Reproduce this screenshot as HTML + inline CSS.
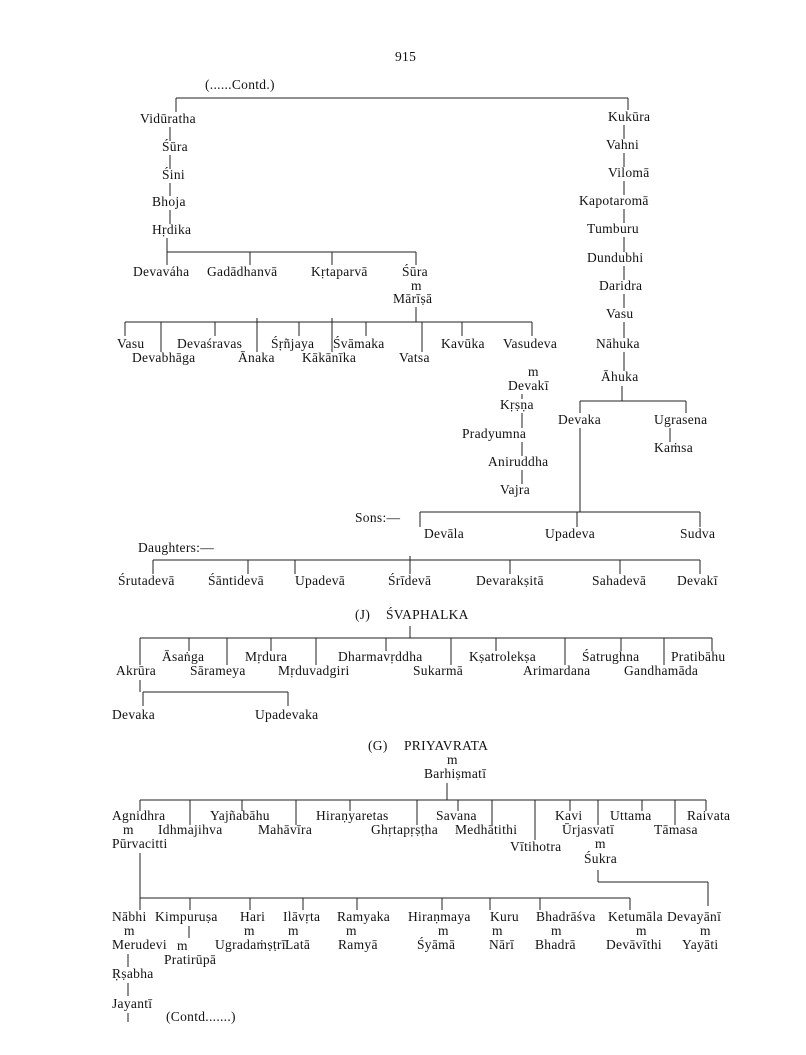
<!DOCTYPE html>
<html><head><meta charset="utf-8"><style>
html,body{margin:0;padding:0;background:#fff;}
svg{display:block;}
text{font-family:"Liberation Serif",serif;font-size:13.5px;letter-spacing:0.3px;fill:#111;dominant-baseline:middle;}
line{stroke:#222;stroke-width:1;}
</style></head><body>
<svg width="806" height="1055" viewBox="0 0 806 1055">
<text x="395" y="58">915</text>
<text x="205" y="86">(......Contd.)</text>
<line x1="176" y1="98" x2="628" y2="98"/>
<line x1="176" y1="98" x2="176" y2="112"/>
<line x1="628" y1="98" x2="628" y2="110"/>
<text x="140" y="120">Vidūratha</text>
<line x1="170" y1="127" x2="170" y2="141"/>
<text x="162" y="148">Śūra</text>
<line x1="170" y1="155" x2="170" y2="169"/>
<text x="162" y="176">Śini</text>
<line x1="170" y1="183" x2="170" y2="196"/>
<text x="152" y="203">Bhoja</text>
<line x1="170" y1="210" x2="170" y2="224"/>
<text x="152" y="231">Hṛdika</text>
<line x1="167" y1="238" x2="167" y2="265"/>
<line x1="167" y1="252" x2="416" y2="252"/>
<line x1="250" y1="252" x2="250" y2="265"/>
<line x1="332" y1="252" x2="332" y2="265"/>
<line x1="416" y1="252" x2="416" y2="265"/>
<text x="133" y="273">Devaváha</text>
<text x="207" y="273">Gadādhanvā</text>
<text x="311" y="273">Kṛtaparvā</text>
<text x="402" y="273">Śūra</text>
<text x="411" y="287">m</text>
<text x="393" y="300">Mārīṣā</text>
<line x1="416" y1="307" x2="416" y2="322"/>
<line x1="125" y1="322" x2="532" y2="322"/>
<line x1="125" y1="322" x2="125" y2="336"/>
<line x1="161" y1="322" x2="161" y2="352"/>
<line x1="215" y1="322" x2="215" y2="336"/>
<line x1="257" y1="318" x2="257" y2="352"/>
<line x1="299" y1="322" x2="299" y2="336"/>
<line x1="332" y1="318" x2="332" y2="352"/>
<line x1="366" y1="322" x2="366" y2="336"/>
<line x1="422" y1="322" x2="422" y2="352"/>
<line x1="462" y1="322" x2="462" y2="336"/>
<line x1="532" y1="322" x2="532" y2="336"/>
<text x="117" y="345">Vasu</text>
<text x="177" y="345">Devaśravas</text>
<text x="271" y="345">Śṛñjaya</text>
<text x="333" y="345">Śvāmaka</text>
<text x="441" y="345">Kavūka</text>
<text x="503" y="345">Vasudeva</text>
<text x="132" y="359">Devabhāga</text>
<text x="238" y="359">Ānaka</text>
<text x="302" y="359">Kākānīka</text>
<text x="399" y="359">Vatsa</text>
<text x="528" y="373">m</text>
<text x="508" y="387">Devakī</text>
<line x1="522" y1="394" x2="522" y2="399"/>
<text x="500" y="406">Kṛṣṇa</text>
<line x1="522" y1="413" x2="522" y2="428"/>
<text x="462" y="435">Pradyumna</text>
<line x1="522" y1="442" x2="522" y2="456"/>
<text x="488" y="463">Aniruddha</text>
<line x1="522" y1="470" x2="522" y2="484"/>
<text x="500" y="491">Vajra</text>
<text x="608" y="118">Kukūra</text>
<line x1="624" y1="125" x2="624" y2="139"/>
<text x="606" y="146">Vahni</text>
<line x1="624" y1="153" x2="624" y2="167"/>
<text x="608" y="174">Vilomā</text>
<line x1="624" y1="181" x2="624" y2="195"/>
<text x="579" y="202">Kapotaromā</text>
<line x1="624" y1="209" x2="624" y2="223"/>
<text x="587" y="230">Tumburu</text>
<line x1="624" y1="237" x2="624" y2="252"/>
<text x="587" y="259">Dundubhi</text>
<line x1="624" y1="266" x2="624" y2="280"/>
<text x="599" y="287">Daridra</text>
<line x1="624" y1="294" x2="624" y2="308"/>
<text x="606" y="315">Vasu</text>
<line x1="624" y1="322" x2="624" y2="338"/>
<text x="596" y="345">Nāhuka</text>
<line x1="624" y1="352" x2="624" y2="371"/>
<text x="601" y="378">Āhuka</text>
<line x1="622" y1="386" x2="622" y2="401"/>
<line x1="580" y1="401" x2="686" y2="401"/>
<line x1="686" y1="401" x2="686" y2="413"/>
<line x1="580" y1="401" x2="580" y2="413"/>
<text x="558" y="421">Devaka</text>
<text x="654" y="421">Ugrasena</text>
<line x1="670" y1="428" x2="670" y2="442"/>
<text x="654" y="449">Kaṁsa</text>
<line x1="580" y1="428" x2="580" y2="512"/>
<line x1="577" y1="512" x2="577" y2="527"/>
<text x="355" y="519">Sons:—</text>
<line x1="420" y1="512" x2="700" y2="512"/>
<line x1="420" y1="512" x2="420" y2="527"/>
<line x1="700" y1="512" x2="700" y2="527"/>
<text x="424" y="535">Devāla</text>
<text x="545" y="535">Upadeva</text>
<text x="680" y="535">Sudva</text>
<text x="138" y="549">Daughters:—</text>
<line x1="153" y1="560" x2="700" y2="560"/>
<line x1="153" y1="560" x2="153" y2="574"/>
<line x1="248" y1="560" x2="248" y2="574"/>
<line x1="295" y1="560" x2="295" y2="574"/>
<line x1="410" y1="556" x2="410" y2="574"/>
<line x1="510" y1="560" x2="510" y2="574"/>
<line x1="620" y1="560" x2="620" y2="574"/>
<line x1="700" y1="560" x2="700" y2="574"/>
<text x="118" y="582">Śrutadevā</text>
<text x="208" y="582">Śāntidevā</text>
<text x="295" y="582">Upadevā</text>
<text x="388" y="582">Śrīdevā</text>
<text x="476" y="582">Devarakṣitā</text>
<text x="592" y="582">Sahadevā</text>
<text x="677" y="582">Devakī</text>
<text x="355" y="616">(J)</text>
<text x="386" y="616">ŚVAPHALKA</text>
<line x1="410" y1="626" x2="410" y2="638"/>
<line x1="140" y1="638" x2="712" y2="638"/>
<line x1="140" y1="638" x2="140" y2="665"/>
<line x1="189" y1="638" x2="189" y2="651"/>
<line x1="227" y1="638" x2="227" y2="665"/>
<line x1="271" y1="638" x2="271" y2="651"/>
<line x1="316" y1="638" x2="316" y2="665"/>
<line x1="386" y1="638" x2="386" y2="651"/>
<line x1="451" y1="638" x2="451" y2="665"/>
<line x1="496" y1="638" x2="496" y2="651"/>
<line x1="565" y1="638" x2="565" y2="665"/>
<line x1="621" y1="638" x2="621" y2="651"/>
<line x1="664" y1="638" x2="664" y2="665"/>
<line x1="712" y1="638" x2="712" y2="651"/>
<text x="162" y="658">Āsaṅga</text>
<text x="245" y="658">Mṛdura</text>
<text x="338" y="658">Dharmavṛddha</text>
<text x="469" y="658">Kṣatrolekṣa</text>
<text x="582" y="658">Śatrughna</text>
<text x="671" y="658">Pratibāhu</text>
<text x="116" y="672">Akrūra</text>
<text x="190" y="672">Sārameya</text>
<text x="278" y="672">Mṛduvadgiri</text>
<text x="413" y="672">Sukarmā</text>
<text x="523" y="672">Arimardana</text>
<text x="624" y="672">Gandhamāda</text>
<line x1="140" y1="680" x2="140" y2="692"/>
<line x1="143" y1="692" x2="288" y2="692"/>
<line x1="143" y1="692" x2="143" y2="706"/>
<line x1="288" y1="692" x2="288" y2="706"/>
<text x="112" y="716">Devaka</text>
<text x="255" y="716">Upadevaka</text>
<text x="368" y="747">(G)</text>
<text x="404" y="747">PRIYAVRATA</text>
<text x="447" y="761">m</text>
<text x="424" y="775">Barhiṣmatī</text>
<line x1="447" y1="783" x2="447" y2="800"/>
<line x1="140" y1="800" x2="706" y2="800"/>
<line x1="140" y1="800" x2="140" y2="811"/>
<line x1="190" y1="800" x2="190" y2="825"/>
<line x1="242" y1="800" x2="242" y2="811"/>
<line x1="296" y1="800" x2="296" y2="825"/>
<line x1="350" y1="800" x2="350" y2="811"/>
<line x1="417" y1="800" x2="417" y2="825"/>
<line x1="458" y1="800" x2="458" y2="811"/>
<line x1="492" y1="800" x2="492" y2="825"/>
<line x1="535" y1="800" x2="535" y2="840"/>
<line x1="570" y1="800" x2="570" y2="811"/>
<line x1="598" y1="800" x2="598" y2="825"/>
<line x1="642" y1="800" x2="642" y2="811"/>
<line x1="675" y1="800" x2="675" y2="825"/>
<line x1="706" y1="800" x2="706" y2="811"/>
<text x="112" y="817">Agnidhra</text>
<text x="210" y="817">Yajñabāhu</text>
<text x="316" y="817">Hiraṇyaretas</text>
<text x="436" y="817">Savana</text>
<text x="555" y="817">Kavi</text>
<text x="610" y="817">Uttama</text>
<text x="687" y="817">Raivata</text>
<text x="123" y="831">m</text>
<text x="158" y="831">Idhmajihva</text>
<text x="258" y="831">Mahāvīra</text>
<text x="371" y="831">Ghṛtapṛṣṭha</text>
<text x="455" y="831">Medhātithi</text>
<text x="562" y="831">Ūrjasvatī</text>
<text x="654" y="831">Tāmasa</text>
<text x="112" y="845">Pūrvacitti</text>
<text x="510" y="848">Vītihotra</text>
<text x="595" y="845">m</text>
<text x="584" y="860">Śukra</text>
<line x1="598" y1="870" x2="598" y2="882"/>
<line x1="598" y1="882" x2="708" y2="882"/>
<line x1="708" y1="882" x2="708" y2="906"/>
<line x1="140" y1="853" x2="140" y2="898"/>
<line x1="140" y1="898" x2="630" y2="898"/>
<line x1="140" y1="898" x2="140" y2="910"/>
<line x1="190" y1="898" x2="190" y2="910"/>
<line x1="250" y1="898" x2="250" y2="910"/>
<line x1="303" y1="898" x2="303" y2="910"/>
<line x1="357" y1="898" x2="357" y2="910"/>
<line x1="442" y1="898" x2="442" y2="910"/>
<line x1="490" y1="898" x2="490" y2="910"/>
<line x1="540" y1="898" x2="540" y2="910"/>
<line x1="630" y1="898" x2="630" y2="910"/>
<text x="112" y="918">Nābhi</text>
<text x="155" y="918">Kimpuruṣa</text>
<text x="240" y="918">Hari</text>
<text x="283" y="918">Ilāvṛta</text>
<text x="337" y="918">Ramyaka</text>
<text x="408" y="918">Hiraṇmaya</text>
<text x="490" y="918">Kuru</text>
<text x="536" y="918">Bhadrāśva</text>
<text x="608" y="918">Ketumāla</text>
<text x="667" y="918">Devayānī</text>
<text x="124" y="932">m</text>
<line x1="189" y1="926" x2="189" y2="938"/>
<text x="244" y="932">m</text>
<text x="288" y="932">m</text>
<text x="346" y="932">m</text>
<text x="438" y="932">m</text>
<text x="492" y="932">m</text>
<text x="551" y="932">m</text>
<text x="636" y="932">m</text>
<text x="700" y="932">m</text>
<text x="112" y="946">Merudevi</text>
<text x="177" y="947">m</text>
<text x="215" y="946">Ugradaṁṣṭrī</text>
<text x="285" y="946">Latā</text>
<text x="338" y="946">Ramyā</text>
<text x="417" y="946">Śyāmā</text>
<text x="489" y="946">Nārī</text>
<text x="535" y="946">Bhadrā</text>
<text x="606" y="946">Devāvīthi</text>
<text x="682" y="946">Yayāti</text>
<text x="164" y="961">Pratirūpā</text>
<line x1="128" y1="954" x2="128" y2="967"/>
<text x="112" y="975">Ṛṣabha</text>
<line x1="128" y1="983" x2="128" y2="996"/>
<text x="112" y="1005">Jayantī</text>
<line x1="128" y1="1013" x2="128" y2="1022"/>
<text x="166" y="1018">(Contd.......)</text>
</svg>
</body></html>
